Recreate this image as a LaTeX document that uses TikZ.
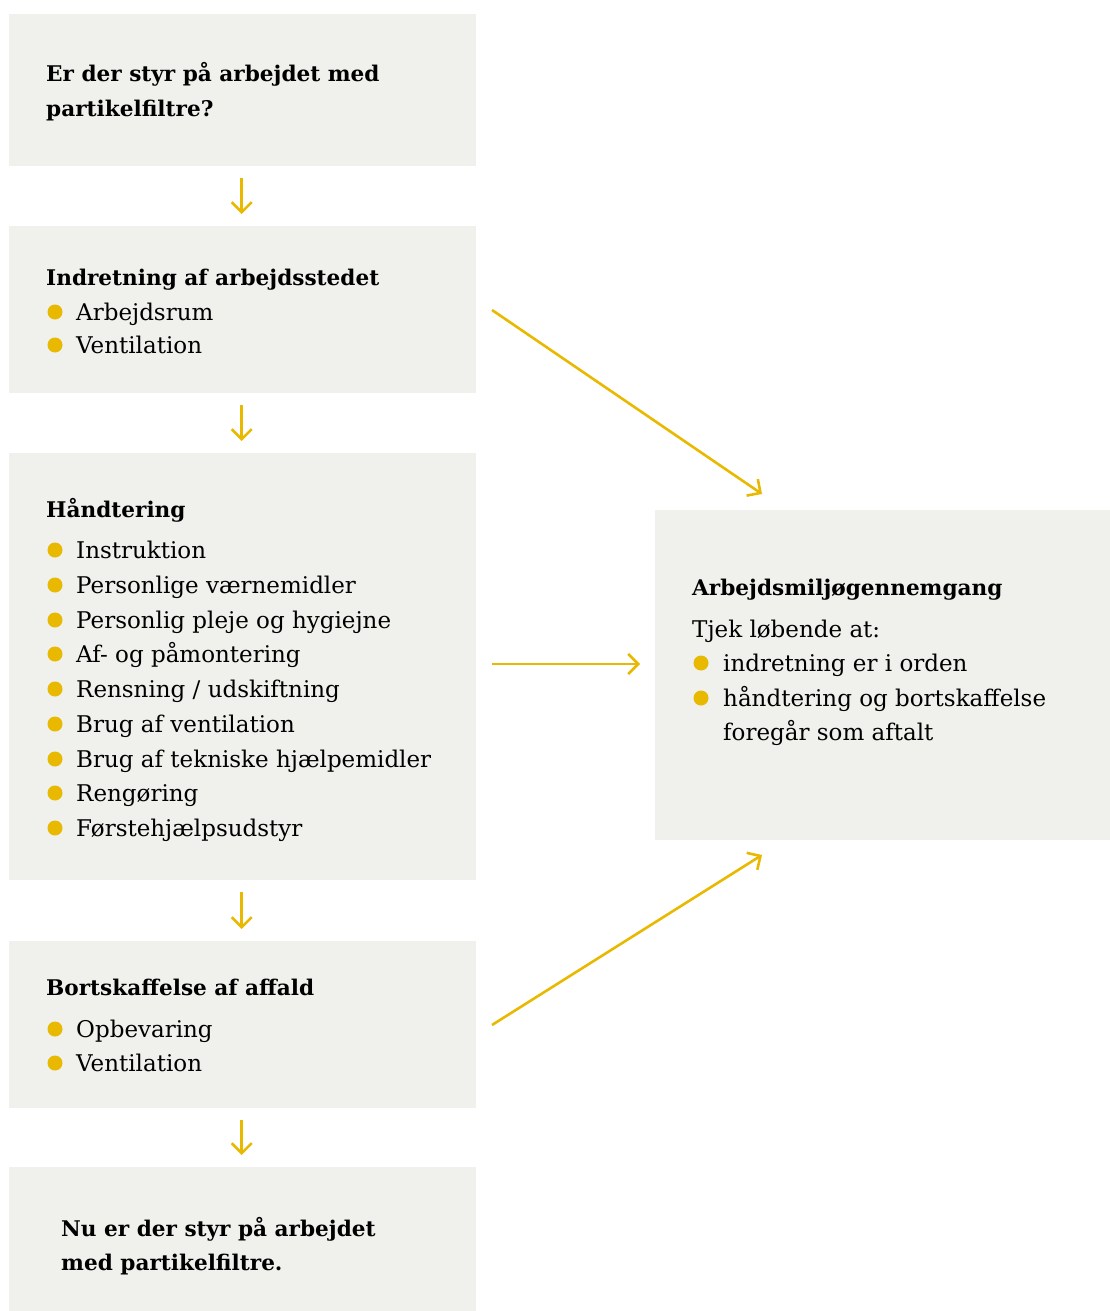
\documentclass[tikz,border=0pt]{standalone}
\usepackage{fontspec}
\setmainfont{DejaVu Serif}
\usetikzlibrary{arrows.meta}
\definecolor{boxgray}{RGB}{240,240,236}
\definecolor{ylw}{RGB}{232,185,0}
\begin{document}
\begin{tikzpicture}[x=1pt,y=-1pt,
  box/.style={fill=boxgray,draw=none,anchor=north west,inner sep=0pt},
  ttl/.style={anchor=base west,inner sep=0pt,font=\fontsize{21.6}{25}\selectfont\bfseries},
  itm/.style={anchor=base west,inner sep=0pt,font=\fontsize{23}{27}\selectfont},
  dot/.style={circle,fill=ylw,inner sep=0pt,minimum size=15pt},
  arr/.style={draw=ylw,line width=2.6pt,-{Straight Barb[length=10pt,width=20pt,line width=2.6pt]}}]
\path[use as bounding box] (0,0) rectangle (1110,1311);
% boxes
\node[box,minimum width=467pt,minimum height=152pt] (b1) at (9,14) {};
\node[box,minimum width=467pt,minimum height=167pt] (b2) at (9,226) {};
\node[box,minimum width=467pt,minimum height=427pt] (b3) at (9,453) {};
\node[box,minimum width=467pt,minimum height=167pt] (b4) at (9,941) {};
\node[box,minimum width=467pt,minimum height=144pt] (b5) at (9,1167) {};
\node[box,minimum width=455pt,minimum height=330pt] (r) at (655,510) {};
% box 1
\node[ttl] (t1a) at (46,82) {Er der styr på arbejdet med};
\node[ttl] (t1b) at (46,117) {partikelfiltre?};
% box 2
\node[ttl] (t2) at (46,285) {Indretning af arbejdsstedet};
\foreach \y/\t [count=\i] in {320/{Arbejdsrum},353/{Ventilation}}{
  \node[dot] (d2\i) at (55,\y-8) {};
  \node[itm] (i2\i) at (76,\y) {\t};
}
% box 3
\node[ttl] (t3) at (46,517) {Håndtering};
\foreach \y/\t [count=\i] in {558/{Instruktion},593/{Personlige værnemidler},628/{Personlig pleje og hygiejne},662/{Af- og påmontering},697/{Rensning / udskiftning},732/{Brug af ventilation},767/{Brug af tekniske hjælpemidler},801/{Rengøring},836/{Førstehjælpsudstyr}}{
  \node[dot] (d3\i) at (55,\y-8) {};
  \node[itm] (i3\i) at (76,\y) {\t};
}
% box 4
\node[ttl] (t4) at (46,995) {Bortskaffelse af affald};
\foreach \y/\t [count=\i] in {1037/{Opbevaring},1071/{Ventilation}}{
  \node[dot] (d4\i) at (55,\y-8) {};
  \node[itm] (i4\i) at (76,\y) {\t};
}
% box 5
\node[ttl] (t5a) at (61,1236) {Nu er der styr på arbejdet};
\node[ttl] (t5b) at (61,1270) {med partikelfiltre.};
% right box
\node[ttl] (tr) at (692,595) {Arbejdsmiljøgennemgang};
\node[itm] (tra) at (692,637) {Tjek løbende at:};
\node[dot] (dr1) at (701,663) {};
\node[itm] (ir1) at (723,671) {indretning er i orden};
\node[dot] (dr2) at (701,698) {};
\node[itm] (ir2) at (723,706) {håndtering og bortskaffelse};
\node[itm] (ir3) at (723,740) {foregår som aftalt};
% connectors
\coordinate (s2) at (492,310);
\coordinate (e2) at (762,494);
\coordinate (s3) at (492,664);
\coordinate (e3) at (640,664);
\coordinate (s4) at (492,1025);
\coordinate (e4) at (762,855);
\draw[arr] ([xshift=-1pt,yshift=-12pt]b1.south) -- ([xshift=-1pt,yshift=12pt]b2.north);
\draw[arr] ([xshift=-1pt,yshift=-12pt]b2.south) -- ([xshift=-1pt,yshift=12pt]b3.north);
\draw[arr] ([xshift=-1pt,yshift=-12pt]b3.south) -- ([xshift=-1pt,yshift=12pt]b4.north);
\draw[arr] ([xshift=-1pt,yshift=-12pt]b4.south) -- ([xshift=-1pt,yshift=12pt]b5.north);
\draw[arr] (s2) -- (e2);
\draw[arr] (s3) -- (e3);
\draw[arr] (s4) -- (e4);
\end{tikzpicture}
\end{document}
